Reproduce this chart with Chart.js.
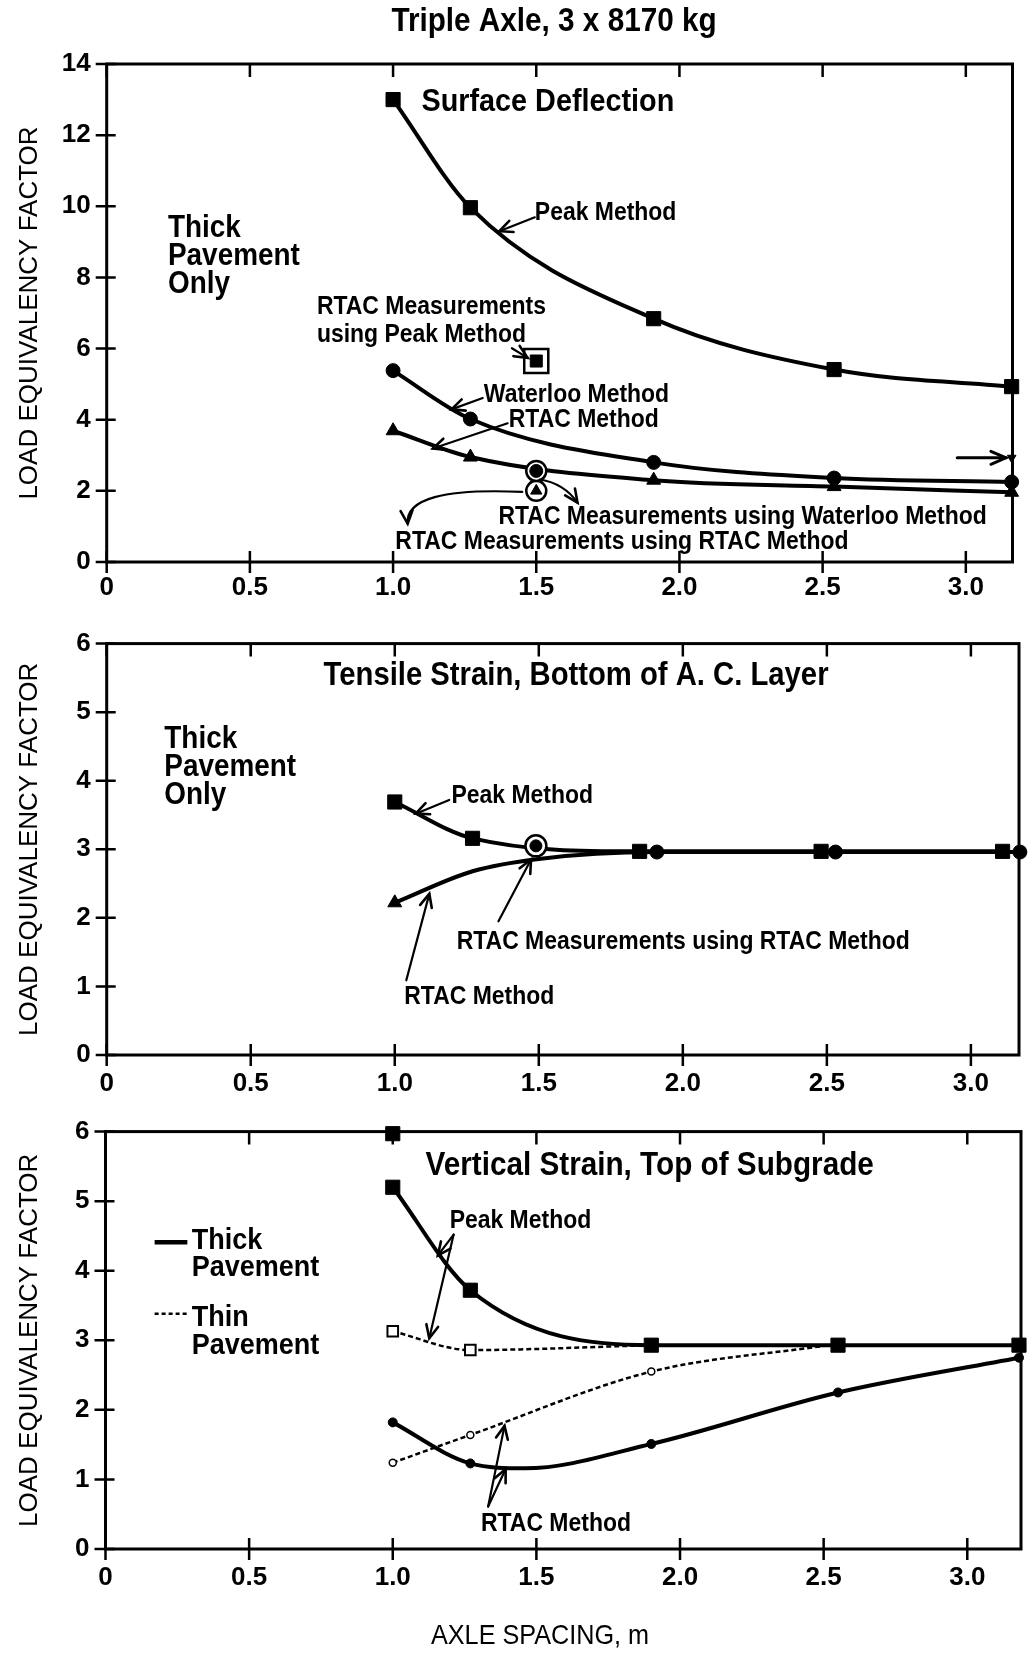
<!DOCTYPE html>
<html>
<head>
<meta charset="utf-8">
<script src="https://cdn.jsdelivr.net/npm/chart.js@4.4.1/dist/chart.umd.min.js"></script>
<style>
  body { margin: 0; background: #fff; }
  #wrap { position: relative; width: 1032px; height: 1655px; }
  canvas { position: absolute; left: 0; }
</style>
</head>
<body>
<div id="wrap">
  <canvas id="c1" width="1032" height="612" style="top:0px"></canvas>
  <canvas id="c2" width="1032" height="488" style="top:612px"></canvas>
  <canvas id="c3" width="1032" height="555" style="top:1100px"></canvas>
</div>
<script>
// --- surface deflection (top panel)
const sdSpacing = [1.0, 1.27, 1.91, 2.54, 3.16];
const sdPeak = [13.0, 9.96, 6.84, 5.41, 4.93];
const sdWaterloo = [5.38, 4.02, 2.80, 2.36, 2.25];
const sdRtac = [3.69, 2.95, 2.30, 2.12, 1.96];
const sdMeasSpacing = [1.5];
const sdMeasPeak = [5.65];
const sdMeasWaterloo = [2.56];
const sdMeasRtac = [2.0];
const sdFlagSpacing = [3.16];
const sdFlag = [2.93];

// --- tensile strain, bottom of A.C. layer (middle panel)
const tsPeakSpacing = [1.0, 1.27, 1.85, 2.48, 3.11];
const tsPeak = [3.69, 3.16, 2.97, 2.97, 2.97];
const tsRtacSpacing = [1.0, 1.27, 1.5, 1.91, 2.53, 3.17];
const tsRtac = [2.22, 2.68, 2.86, 2.96, 2.96, 2.96];
const tsMeasSpacing = [1.49];
const tsMeasRtac = [3.05];

// --- vertical strain, top of subgrade (bottom panel)
const vsSpacing = [1.0, 1.27, 1.9, 2.55, 3.18];
const vsThickPeak = [5.20, 3.72, 2.93, 2.93, 2.93];
const vsTopSpacing = [1.0];
const vsTop = [5.97];
const vsThinPeakSpacing = [1.0, 1.27, 1.9];
const vsThinPeak = [3.13, 2.86, 2.93];
const vsThickRtacSpacing = [1.0, 1.27, 1.46, 1.9, 2.55, 3.18];
const vsThickRtac = [1.82, 1.23, 1.16, 1.51, 2.25, 2.75];
const vsThinRtacSpacing = [1.0, 1.27, 1.9, 2.5];
const vsThinRtac = [1.24, 1.64, 2.55, 2.92];

const xTickLabels = ['0', '0.5', '1.0', '1.5', '2.0', '2.5', '3.0'];

const TICK_FONT = '"Liberation Sans", Arial, sans-serif';
const NOTE_FONT = '"Liberation Sans", Arial, sans-serif';
const SQUEEZE = 0.9; // the original lettering is a condensed face

Chart.defaults.color = '#000';
Chart.defaults.animation = false;

const pts = (xs, ys) => xs.map((x, i) => ({ x: x, y: ys[i] }));

function curve(xs, ys, extra) {
  return Object.assign({
    data: pts(xs, ys),
    showLine: true,
    borderColor: '#000',
    backgroundColor: '#000',
    pointBorderColor: '#000',
    pointBackgroundColor: '#000',
    borderWidth: 4,
    pointBorderWidth: 1,
    cubicInterpolationMode: 'monotone',
    clip: false,
    order: 10
  }, extra);
}

function marker(xs, ys, style, r, fill, extra) {
  return Object.assign({
    data: pts(xs, ys),
    showLine: false,
    pointStyle: style,
    pointRadius: r,
    pointBackgroundColor: fill,
    pointBorderColor: '#000',
    pointBorderWidth: 2.5,
    clip: false,
    order: 5
  }, extra);
}

// frame + crossing tick marks like the printed figure
const framePlugin = {
  id: 'frame',
  afterDatasetsDraw(chart) {
    const { ctx, chartArea } = chart;
    const { left, right, top, bottom } = chartArea;
    const xs = chart.scales.x, ys = chart.scales.y;
    ctx.save();
    ctx.strokeStyle = '#000';
    ctx.lineWidth = 3;
    ctx.strokeRect(left, top, right - left, bottom - top);
    ctx.lineWidth = 2.5;
    ctx.beginPath();
    xs.ticks.forEach(t => {
      const x = xs.getPixelForValue(t.value);
      ctx.moveTo(x, top); ctx.lineTo(x, top + 13);
      ctx.moveTo(x, bottom - 11); ctx.lineTo(x, bottom + 11);
    });
    ys.ticks.forEach(t => {
      const y = ys.getPixelForValue(t.value);
      ctx.moveTo(left - 11, y); ctx.lineTo(left + 9, y);
    });
    ctx.stroke();
    ctx.restore();
  }
};

// open "V" arrow heads, as in the print
function arrowHead(ctx, x1, y1, ang, L, W) {
  ctx.beginPath();
  ctx.moveTo(x1 - L * Math.cos(ang) + W * Math.sin(ang), y1 - L * Math.sin(ang) - W * Math.cos(ang));
  ctx.lineTo(x1, y1);
  ctx.lineTo(x1 - L * Math.cos(ang) - W * Math.sin(ang), y1 - L * Math.sin(ang) + W * Math.cos(ang));
  ctx.stroke();
}

// labels, arrows and legend keys, placed in data units
const NOTES = {
  c1: {
    abs: [{ t: 'Triple Axle, 3 x 8170 kg', x: 554, y: 22, size: 33, align: 'center' }],
    texts: [
      { t: 'Surface Deflection', x: 1.099, y: 12.93, size: 32 },
      { t: 'Peak Method', x: 1.495, y: 9.81 },
      { t: 'Thick', x: 0.214, y: 9.39, size: 31, weight: '600' },
      { t: 'Pavement', x: 0.214, y: 8.59, size: 31, weight: '600' },
      { t: 'Only', x: 0.214, y: 7.79, size: 31, weight: '600' },
      { t: 'RTAC Measurements', x: 0.734, y: 7.17 },
      { t: 'using Peak Method', x: 0.734, y: 6.39 },
      { t: 'Waterloo Method', x: 1.317, y: 4.70 },
      { t: 'RTAC Method', x: 1.404, y: 3.99 },
      { t: 'RTAC Measurements using Waterloo Method', x: 1.368, y: 1.26 },
      { t: 'RTAC Measurements using RTAC Method', x: 1.008, y: 0.57 }
    ],
    arrows: [
      { a: [1.495, 9.69], b: [1.371, 9.30] },
      { a: [1.415, 6.01], b: [1.470, 5.74] },
      { a: [1.313, 4.61], b: [1.204, 4.29] },
      { a: [1.400, 3.90], b: [1.139, 3.19] },
      { a: [1.513, 2.32], b: [1.644, 1.67], c: [1.597, 2.21] },
      { a: [1.451, 1.97], b: [1.051, 1.08], c: [1.04, 2.12] },
      { a: [2.97, 2.93], b: [3.14, 2.93], w: 3 }
    ],
    keys: []
  },
  c2: {
    abs: [],
    texts: [
      { t: 'Tensile Strain, Bottom of A. C. Layer', x: 0.753, y: 5.53, size: 32.5 },
      { t: 'Thick', x: 0.2, y: 4.60, size: 31, weight: '600' },
      { t: 'Pavement', x: 0.2, y: 4.20, size: 31, weight: '600' },
      { t: 'Only', x: 0.2, y: 3.79, size: 31, weight: '600' },
      { t: 'Peak Method', x: 1.197, y: 3.78 },
      { t: 'RTAC Measurements using RTAC Method', x: 1.215, y: 1.65 },
      { t: 'RTAC Method', x: 1.033, y: 0.85 }
    ],
    arrows: [
      { a: [1.189, 3.72], b: [1.073, 3.52] },
      { a: [1.36, 1.95], b: [1.473, 2.85] },
      { a: [1.040, 1.09], b: [1.120, 2.35] }
    ],
    keys: []
  },
  c3: {
    abs: [{ t: 'AXLE SPACING, m', x: 540, y: 536, size: 28, weight: 'normal', align: 'center' }],
    texts: [
      { t: 'Vertical Strain, Top of Subgrade', x: 1.114, y: 5.50, size: 33 },
      { t: 'Thick', x: 0.30, y: 4.43, size: 30, weight: '600' },
      { t: 'Pavement', x: 0.30, y: 4.04, size: 30, weight: '600' },
      { t: 'Thin', x: 0.30, y: 3.32, size: 30, weight: '600' },
      { t: 'Pavement', x: 0.30, y: 2.92, size: 30, weight: '600' },
      { t: 'Peak Method', x: 1.198, y: 4.71 },
      { t: 'RTAC Method', x: 1.307, y: 0.36 }
    ],
    arrows: [
      { a: [1.212, 4.52], b: [1.157, 4.22] },
      { a: [1.212, 4.52], b: [1.127, 3.03] },
      { a: [1.332, 0.61], b: [1.389, 1.77] },
      { a: [1.332, 0.61], b: [1.393, 1.15] }
    ],
    keys: [
      { x0: 0.171, x1: 0.285, y: 4.41, w: 4.5, dash: [] },
      { x0: 0.171, x1: 0.285, y: 3.38, w: 2.5, dash: [4, 3] }
    ]
  }
};

function noteText(ctx, n, x, y) {
  ctx.save();
  ctx.font = (n.weight || 'bold') + ' ' + (n.size || 25.5) + 'px ' + NOTE_FONT;
  ctx.textAlign = n.align || 'left';
  ctx.textBaseline = 'middle';
  ctx.fillStyle = '#000';
  ctx.translate(x, y);
  ctx.scale(SQUEEZE, 1);
  ctx.fillText(n.t, 0, 0);
  ctx.restore();
}

const notesPlugin = {
  id: 'notes',
  afterDraw(chart) {
    const cfg = NOTES[chart.canvas.id];
    if (!cfg) return;
    const { ctx } = chart;
    const px = v => chart.scales.x.getPixelForValue(v);
    const py = v => chart.scales.y.getPixelForValue(v);
    cfg.abs.forEach(n => noteText(ctx, n, n.x, n.y));
    cfg.texts.forEach(n => noteText(ctx, n, px(n.x), py(n.y)));
    ctx.save();
    ctx.strokeStyle = '#000';
    ctx.fillStyle = '#000';
    ctx.lineCap = 'round';
    cfg.arrows.forEach(ar => {
      const x0 = px(ar.a[0]), y0 = py(ar.a[1]);
      const x1 = px(ar.b[0]), y1 = py(ar.b[1]);
      ctx.lineWidth = ar.w || 2.2;
      ctx.beginPath();
      ctx.moveTo(x0, y0);
      let fx = x0, fy = y0;
      if (ar.c) {
        fx = px(ar.c[0]); fy = py(ar.c[1]);
        ctx.quadraticCurveTo(fx, fy, x1, y1);
      } else {
        ctx.lineTo(x1, y1);
      }
      ctx.stroke();
      ctx.lineWidth = ar.w ? 3 : 2.6;
      arrowHead(ctx, x1, y1, Math.atan2(y1 - fy, x1 - fx), ar.w ? 15 : 13, ar.w ? 6.5 : 6);
    });
    ctx.lineCap = 'butt';
    cfg.keys.forEach(k => {
      ctx.lineWidth = k.w;
      ctx.setLineDash(k.dash);
      ctx.beginPath();
      ctx.moveTo(px(k.x0), py(k.y));
      ctx.lineTo(px(k.x1), py(k.y));
      ctx.stroke();
    });
    ctx.restore();
  }
};

Chart.register(framePlugin, notesPlugin);

function makeScales(o) {
  return {
    x: {
      type: 'linear', min: 0, max: o.xMax,
      grid: { display: false, drawTicks: false },
      border: { display: false },
      ticks: {
        stepSize: 0.5, includeBounds: false, padding: o.xPad,
        font: { family: TICK_FONT, size: 26, weight: 'bold' },
        callback: v => xTickLabels[Math.round(v * 2)]
      },
      afterFit: s => { s.height = o.xH; }
    },
    y: {
      type: 'linear', min: 0, max: o.yMax,
      grid: { display: false, drawTicks: false },
      border: { display: false },
      ticks: {
        stepSize: o.yStep, padding: 16,
        font: { family: TICK_FONT, size: 26, weight: 'bold' }
      },
      title: {
        display: true, text: 'LOAD EQUIVALENCY FACTOR',
        font: { family: TICK_FONT, size: 26, weight: 'normal' },
        padding: { top: 14, bottom: 0 }
      },
      afterFit: s => { s.width = o.left; }
    }
  };
}

function baseOptions(o) {
  return {
    responsive: false,
    animation: false,
    events: [],
    layout: { padding: { top: o.top, right: o.right, bottom: 0, left: 0 } },
    plugins: { legend: { display: false }, tooltip: { enabled: false } },
    scales: makeScales(o)
  };
}

// top: surface deflection
new Chart(document.getElementById('c1'), {
  type: 'scatter',
  data: {
    datasets: [
      curve(sdSpacing, sdPeak, { pointStyle: 'rect', pointRadius: 10 }),
      curve(sdSpacing, sdWaterloo, { pointStyle: 'circle', pointRadius: 7 }),
      curve(sdSpacing, sdRtac, { pointStyle: 'triangle', pointRadius: 8 }),
      marker(sdMeasSpacing, sdMeasPeak, 'rect', 17, '#fff'),
      marker(sdMeasSpacing, sdMeasPeak, 'rect', 8.5, '#000', { order: 1, pointBorderWidth: 1 }),
      marker(sdMeasSpacing, sdMeasWaterloo, 'circle', 10, '#fff'),
      marker(sdMeasSpacing, sdMeasWaterloo, 'circle', 6.5, '#000', { order: 1, pointBorderWidth: 1 }),
      marker(sdMeasSpacing, sdMeasRtac, 'circle', 10, '#fff'),
      marker(sdMeasSpacing, sdMeasRtac, 'triangle', 6.5, '#000', { order: 1, pointBorderWidth: 1 }),
      marker(sdFlagSpacing, sdFlag, 'triangle', 5, '#000', { rotation: 180, pointBorderWidth: 1 })
    ]
  },
  options: baseOptions({ top: 64, right: 8, xMax: 3.163, xH: 50, xPad: 10, yMax: 14, yStep: 2, left: 106.7 })
});

// middle: tensile strain
new Chart(document.getElementById('c2'), {
  type: 'scatter',
  data: {
    datasets: [
      curve(tsPeakSpacing, tsPeak, { pointStyle: 'rect', pointRadius: 10 }),
      curve(tsRtacSpacing, tsRtac, {
        pointStyle: ['triangle', 'circle', 'circle', 'circle', 'circle', 'circle'],
        pointRadius: [8, 0, 0, 7, 7, 7]
      }),
      marker(tsMeasSpacing, tsMeasRtac, 'circle', 10.5, '#fff'),
      marker(tsMeasSpacing, tsMeasRtac, 'circle', 6, '#000', { order: 1, pointBorderWidth: 1 })
    ]
  },
  options: baseOptions({ top: 21, right: 7, xMax: 3.167, xH: 45, xPad: 13, yMax: 6, yStep: 1, left: 106.7 })
});

// bottom: vertical strain, thick (solid) and thin (dashed) pavement
new Chart(document.getElementById('c3'), {
  type: 'scatter',
  data: {
    datasets: [
      curve(vsSpacing, vsThickPeak, { pointStyle: 'rect', pointRadius: 10 }),
      marker(vsTopSpacing, vsTop, 'rect', 10, '#000', { pointBorderWidth: 1 }),
      curve(vsThinPeakSpacing, vsThinPeak, {
        borderWidth: 2.5, borderDash: [5, 3], pointStyle: 'rect',
        pointRadius: [7.5, 7.5, 0], pointBackgroundColor: '#fff', pointBorderWidth: 2
      }),
      curve(vsThickRtacSpacing, vsThickRtac, {
        pointStyle: 'circle', pointRadius: [4.5, 4.5, 0, 4.5, 4.5, 4.5]
      }),
      curve(vsThinRtacSpacing, vsThinRtac, {
        borderWidth: 2.5, borderDash: [5, 3], pointStyle: 'circle',
        pointRadius: [3.5, 3.5, 3.5, 0], pointBackgroundColor: '#fff', pointBorderWidth: 1.5
      })
    ]
  },
  options: baseOptions({ top: 22, right: 5.5, xMax: 3.187, xH: 106, xPad: 13, yMax: 6, yStep: 1, left: 105.5 })
});
</script>
</body>
</html>
